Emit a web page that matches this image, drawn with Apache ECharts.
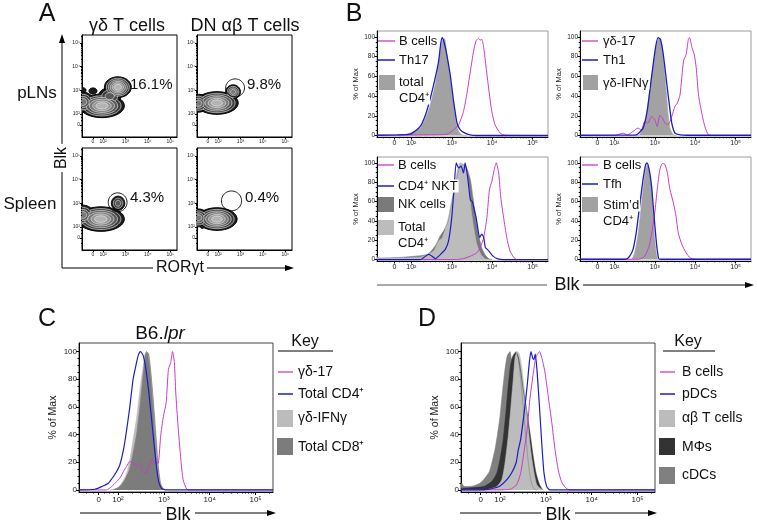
<!DOCTYPE html>
<html><head><meta charset="utf-8">
<script src="https://cdn.jsdelivr.net/npm/echarts@6/dist/echarts.min.js"></script>
<style>html,body{margin:0;padding:0;background:#fff}#c{width:757px;height:525px}</style>
</head><body><div id="c"></div>
<script>
// ================= DATA =================
// biexponential display units: 10^k at k, "0" near 1.58
const histTicks = [1.58, 2, 3, 4, 5];
const tickLabels = ['0', '10²', '10³', '10⁴', '10⁵'];
const flowTicksX = [1.55, 2, 3, 4, 5];
const flowTicksY = [1.53, 2, 3, 4, 5];
const pctTicks = [0, 20, 40, 60, 80, 100];

// Panel A: density populations [cx, cy, rx, ry, levels] and gates [cx, cy, rx, ry]
const popGdPln = [[1.95, 2.34, 1.0, 0.5, 6], [1.1, 2.5, 0.5, 0.42, 4], [2.3, 2.75, 0.5, 0.36, 3], [2.66, 3.13, 0.6, 0.44, 6], [1.1, 3.0, 0.14, 0.11, 1], [1.55, 2.97, 0.18, 0.13, 1]];
const popDnPln = [[1.95, 2.46, 0.95, 0.48, 6], [1.12, 2.45, 0.45, 0.38, 4], [2.67, 2.93, 0.33, 0.3, 4]];
const popGdSpl = [[1.9, 2.33, 1.05, 0.52, 6], [1.1, 2.5, 0.5, 0.42, 4], [2.67, 3.0, 0.3, 0.3, 3]];
const popDnSpl = [[1.95, 2.33, 0.9, 0.48, 6], [1.12, 2.38, 0.45, 0.38, 4], [1.3, 2.0, 0.08, 0.07, 1]];
const gateDnPln = [[2.76, 3.1, 0.42, 0.38]];
const gateGdSpl = [[2.65, 3.04, 0.42, 0.4]];
const gateDnSpl = [[2.6, 3.1, 0.45, 0.42]];
const pctLabels = ['16.1%', '9.8%', '4.3%', '0.4%'];

// Panel B1
const b1Total = [[1.15,0],[1.81,0.7],[2.22,7.5],[2.35,17.7],[2.47,31.3],[2.59,51.7],[2.675,72.1],[2.73,89],[2.78,97],[2.82,98.5],[2.88,82.3],[2.96,58.5],[3.045,31.3],[3.11,12.6],[3.17,4.1],[3.25,0.7],[3.4,0]];
const b1Th17 = [[1.15,0.3],[1.646,0.7],[1.975,1.4],[2.22,9.2],[2.35,21],[2.47,38],[2.59,58.5],[2.675,75.5],[2.73,94.2],[2.765,99.3],[2.80,95.9],[2.86,85.7],[2.96,61.9],[3.045,34.7],[3.13,12.6],[3.21,5.8],[3.33,2.4],[3.45,0.7],[3.6,0],[5.38,0]];
const b1Bcells = [[1.15,0.3],[2.5,0.7],[2.88,1.4],[3.045,5.8],[3.17,10.9],[3.29,24.5],[3.37,41.5],[3.46,65.3],[3.54,85.7],[3.60,95.9],[3.66,98.6],[3.70,96.6],[3.74,97.6],[3.79,89.1],[3.85,68.7],[3.91,48.3],[3.99,24.5],[4.07,10.9],[4.20,2.4],[4.32,0.3],[5.38,0]];
// Panel B2
const b2GdIfng = [[2.5,0],[2.625,0.7],[2.75,10.9],[2.83,31.3],[2.92,58.5],[3.0,82.3],[3.06,94.2],[3.11,99],[3.17,92.5],[3.23,68.7],[3.29,41.5],[3.33,21],[3.375,7.5],[3.46,0.7],[3.55,0]];
const b2Th1 = [[1.15,0.3],[2.4,0.5],[2.54,0.7],[2.71,7.5],[2.81,24.5],[2.875,44.9],[2.96,72.1],[3.025,90.8],[3.08,99.3],[3.14,97.6],[3.21,82.3],[3.29,55],[3.36,31.3],[3.42,12.6],[3.5,2.4],[3.625,0.7],[3.8,0.3],[5.38,0.3]];
const b2Gd17 = [[1.15,0],[2.0,0],[2.125,1.4],[2.21,2.4],[2.33,0.7],[2.46,4.1],[2.58,7.5],[2.67,5.8],[2.75,14.3],[2.83,12.6],[2.92,19.4],[3.0,16],[3.06,9.2],[3.125,20.4],[3.19,17.7],[3.25,12.6],[3.33,10.9],[3.42,19.4],[3.5,29.6],[3.56,33],[3.625,41.5],[3.71,75.5],[3.775,82.3],[3.83,97.6],[3.86,99.3],[3.92,89.1],[3.975,82.3],[4.025,68.7],[4.08,41.5],[4.17,21],[4.25,7.5],[4.33,0.7],[4.46,0],[5.38,0]];
// Panel B3
const b3Nk = [[1.15,3.5],[1.2,1.5],[1.81,2.5],[2.39,5.3],[2.59,14],[2.716,24.6],[2.80,29.8],[2.90,38.6],[2.98,54.4],[3.06,71.9],[3.13,86],[3.19,94.7],[3.28,98.2],[3.37,94.7],[3.46,82.5],[3.52,64.9],[3.58,47.4],[3.66,26.3],[3.74,12.3],[3.83,4.6],[3.91,1],[4.0,0]];
const b3Total = [[1.15,1.5],[2.22,2.5],[2.55,8.8],[2.675,19.3],[2.76,22],[2.84,31.6],[2.92,43.9],[3.0,61.4],[3.09,78.9],[3.14,93],[3.21,100],[3.29,98.2],[3.36,93],[3.42,75.4],[3.47,54.4],[3.54,33.3],[3.62,15.8],[3.72,5.3],[3.83,0.5],[3.9,0]];
const b3Nkt = [[1.15,0],[2.22,0],[2.43,5.3],[2.51,3.5],[2.59,1],[2.76,7],[2.84,10.5],[2.92,19.3],[3.0,43.9],[3.06,75.4],[3.11,100],[3.17,94.7],[3.23,96.5],[3.29,89.5],[3.33,100],[3.39,86],[3.46,61.4],[3.51,59.6],[3.56,50.9],[3.60,43.9],[3.64,33.3],[3.69,22.8],[3.74,26.3],[3.79,22.8],[3.83,12.3],[3.88,10.5],[3.95,7],[4.02,3.5],[4.12,1],[4.28,0],[5.38,0]];
const b3Bcells = [[1.15,0],[3.1,0],[3.29,1],[3.46,3.5],[3.62,7],[3.70,12.3],[3.79,22.8],[3.87,43.9],[3.93,71.9],[3.99,80.7],[4.05,93],[4.10,100],[4.16,89.5],[4.21,64.9],[4.28,43.9],[4.36,22.8],[4.44,8.8],[4.53,2.5],[4.61,0],[5.38,0]];
// Panel B4
const b4Stim = [[2.3,0],[2.42,0],[2.5,6.9],[2.58,24.1],[2.64,44.8],[2.71,72.4],[2.775,93.1],[2.82,98.3],[2.86,93.1],[2.92,72.4],[2.96,44.8],[3.0,20.7],[3.04,5.2],[3.08,0]];
const b4Tfh = [[1.15,0.3],[2.2,0.3],[2.29,0.5],[2.375,3.4],[2.46,10.3],[2.54,27.6],[2.625,55.2],[2.71,82.8],[2.775,98.3],[2.81,100],[2.86,93.1],[2.92,75.9],[2.975,48.3],[3.025,24.1],[3.07,6.9],[3.11,0.5],[3.3,0.3],[5.38,0.3]];
const b4Bcells = [[1.15,0.3],[2.5,0.3],[2.625,0.5],[2.75,3.4],[2.86,13.8],[2.94,31],[3.0,48.3],[3.06,72.4],[3.125,93.1],[3.19,99.3],[3.25,98.3],[3.31,89.7],[3.375,72.4],[3.46,58.6],[3.525,44.8],[3.58,27.6],[3.67,15.5],[3.775,6.9],[3.875,1.7],[4.0,0.3],[5.38,0.3]];
// Panel C (B6.lpr)
const cGdIfng = [[1.826,0],[1.97,1.2],[2.08,4.8],[2.19,12],[2.26,21.8],[2.33,36.3],[2.41,53],[2.48,72.6],[2.54,87],[2.59,98],[2.64,99.3],[2.70,89.6],[2.755,68],[2.81,41],[2.86,17],[2.915,4.8],[2.99,0]];
const cCd8 = [[1.90,0],[2.04,2.4],[2.15,7.3],[2.25,14.5],[2.33,26.6],[2.41,41],[2.48,60.5],[2.54,80],[2.59,95.6],[2.62,99.8],[2.67,98],[2.71,87],[2.77,65],[2.83,38.7],[2.88,17],[2.93,4.8],[3.0,0]];
const cCd4 = [[1.15,0],[1.50,0.5],[1.644,2.4],[1.79,4.8],[1.90,9.7],[1.97,13.3],[2.04,18],[2.12,29],[2.19,43.6],[2.26,60.5],[2.33,80],[2.39,89.6],[2.44,96.9],[2.49,99.8],[2.55,96.9],[2.61,87],[2.68,68],[2.755,43.6],[2.83,19.4],[2.88,7.3],[2.95,1.2],[3.06,0],[5.38,0]];
const cGd17 = [[1.15,0],[1.75,0],[1.86,2.4],[1.97,6],[2.04,8.5],[2.12,13.3],[2.19,17],[2.26,20.6],[2.33,19.4],[2.41,17.4],[2.48,19.4],[2.54,13.3],[2.61,12],[2.68,17],[2.73,22.3],[2.81,19],[2.88,19.4],[2.93,38.7],[2.99,53],[3.05,63],[3.10,87],[3.15,92],[3.19,99.8],[3.23,92],[3.26,70],[3.31,46],[3.37,21.8],[3.42,7.3],[3.50,0.5],[3.57,0],[5.38,0]];
// Panel D
const dCdc = [[1.15,2],[1.165,5],[1.20,3],[1.24,2.4],[1.42,2.9],[1.56,4.8],[1.67,8.5],[1.77,13.3],[1.84,21.8],[1.89,29],[1.94,38.7],[2.0,53],[2.06,72.6],[2.11,87],[2.16,96.9],[2.22,99.8],[2.25,94.4],[2.305,98],[2.35,99.8],[2.40,94.4],[2.45,80],[2.51,58],[2.57,36.3],[2.62,19.4],[2.67,7.3],[2.73,1.2],[2.80,0]];
const dMac = [[1.15,1],[1.20,1.2],[1.64,2.4],[1.82,6],[1.93,12],[2.0,21.8],[2.07,36.3],[2.13,56],[2.18,75],[2.23,89.6],[2.29,96.9],[2.35,99],[2.40,95.6],[2.45,86],[2.51,72],[2.58,58],[2.65,42],[2.72,25],[2.78,13],[2.86,4],[2.93,0]];
const dAbT = [[1.71,0],[1.93,2.4],[2.04,7.3],[2.11,19.4],[2.18,38.7],[2.24,60.5],[2.29,80],[2.33,95.6],[2.38,99.8],[2.42,98],[2.47,89.6],[2.545,68],[2.60,50],[2.65,34],[2.70,21],[2.75,11],[2.80,4],[2.88,1],[2.95,0]];
const dPdc = [[1.15,0],[1.64,0],[1.855,1.2],[2.0,2.9],[2.145,7.3],[2.25,12],[2.35,19.4],[2.40,29],[2.45,36.3],[2.49,46],[2.545,60.5],[2.60,77.7],[2.64,92],[2.675,99.8],[2.71,95.6],[2.74,94.2],[2.77,98],[2.81,85],[2.86,60.5],[2.91,34],[2.96,12],[3.02,2.4],[3.09,0],[5.38,0]];
const dBcells = [[1.15,0],[1.855,0],[2.22,0.5],[2.36,3.6],[2.45,12],[2.52,26.6],[2.60,46],[2.65,65],[2.73,85],[2.78,95.6],[2.82,98],[2.86,99.8],[2.91,95.6],[2.98,85],[3.05,68],[3.13,48.5],[3.20,29],[3.27,14.5],[3.34,6],[3.44,1.2],[3.525,0],[5.38,0]];

// ================= STYLE =================
const FONT = "'Liberation Sans', Arial, Helvetica, sans-serif";
const MAG = '#c83cc8', BLUE = '#1c1cc4';
const GRAY_B = '#a2a2a2', NK = '#7a7a7a', LIGHT = '#bcbcbc', CD8 = '#7c7c7c', MAC = '#333333', CDC = '#808080';

// tick positions (axis geometry, log minor ticks)
const logMinor = [];
[2, 3, 4].forEach(d => { for (let k = 2; k <= 9; k++) logMinor.push(d + Math.log10(k)); });
logMinor.push(5 + Math.log10(2));
const histMinorX = [1.3, 1.45, 1.7, 1.8, 1.9].concat(logMinor);
const flowMinor = [1.3, 1.75, 1.85].concat(logMinor);
const pctMinor = [5,10,15,25,30,35,45,50,55,65,70,75,85,90,95];

function labelFor(v, ticks) {
  let best = 0, bd = 1e9;
  ticks.forEach((t, i) => { const d = Math.abs(t - v); if (d < bd) { bd = d; best = i; } });
  return tickLabels[best];
}

const option = { animation: false, grid: [], xAxis: [], yAxis: [], series: [], graphic: [] };

function addAxes(rect, cfg) {
  const gi = option.grid.length;
  option.grid.push({ left: rect[0], top: rect[1], width: rect[2], height: rect[3], show: true,
    borderColor: cfg.border, borderWidth: 1, backgroundColor: 'rgba(0,0,0,0)' });
  const xi = option.xAxis.length;
  option.xAxis.push({ type: 'value', gridIndex: gi, position: 'bottom', min: cfg.xr[0], max: cfg.xr[1],
    axisLine: { show: true, onZero: false, lineStyle: { color: '#000', width: 1 } },
    axisTick: { show: true, customValues: cfg.xt, length: cfg.tl, lineStyle: { color: '#000' } },
    axisLabel: { customValues: cfg.xt, formatter: v => labelFor(v, cfg.xt), fontSize: cfg.fx, color: '#222', margin: cfg.mx, fontFamily: FONT },
    splitLine: { show: false } });
  option.xAxis.push({ type: 'value', gridIndex: gi, position: 'bottom', min: cfg.xr[0], max: cfg.xr[1],
    axisLine: { show: false, onZero: false }, axisTick: { show: true, customValues: cfg.xm, length: cfg.tl * 0.5, lineStyle: { color: '#000' } },
    axisLabel: { show: false }, splitLine: { show: false } });
  const yi = option.yAxis.length;
  const yMain = { type: 'value', gridIndex: gi, position: 'left', min: cfg.yr[0], max: cfg.yr[1],
    axisLine: { show: true, onZero: false, lineStyle: { color: '#000', width: 1 } },
    axisTick: { show: true, customValues: cfg.yt, length: cfg.tl, lineStyle: { color: '#000' } },
    axisLabel: { customValues: cfg.yt, formatter: cfg.yf, fontSize: cfg.fy, color: '#222', margin: cfg.my, fontFamily: FONT },
    splitLine: { show: false } };
  if (cfg.name) {
    Object.assign(yMain, { name: cfg.name, nameLocation: 'middle', nameGap: cfg.ng,
      nameTextStyle: { fontSize: cfg.fn, color: '#222', fontFamily: FONT } });
  }
  option.yAxis.push(yMain);
  option.yAxis.push({ type: 'value', gridIndex: gi, position: 'left', min: cfg.yr[0], max: cfg.yr[1],
    axisLine: { show: false, onZero: false }, axisTick: { show: true, customValues: cfg.ym, length: cfg.tl * 0.5, lineStyle: { color: '#000' } },
    axisLabel: { show: false }, splitLine: { show: false } });
  return { xi, yi };
}

function histAxes(rect, small, border) {
  return addAxes(rect, {
    border: border, xr: [1.15, 5.38], yr: [-1.5, 106], xt: histTicks, xm: histMinorX, yt: pctTicks, ym: pctMinor,
    yf: v => String(v), tl: small ? 2.5 : 3, fx: small ? 7 : 8, fy: small ? 6.5 : 8, mx: small ? 3 : 4, my: 2,
    name: '% of Max', ng: small ? 15 : 20, fn: small ? 7.5 : 10.5 });
}

function flowAxes(rect) {
  return addAxes(rect, {
    border: '#000', xr: [1.06, 5.3], yr: [1.02, 5.34], xt: flowTicksX, xm: flowMinor, yt: flowTicksY, ym: flowMinor,
    yf: v => labelFor(v, flowTicksY), tl: 2, fx: 5, fy: 5, mx: 2, my: 2 });
}

function area(ax, data, color, z) {
  option.series.push({ type: 'line', xAxisIndex: ax.xi, yAxisIndex: ax.yi, data: data, showSymbol: false, symbol: 'none',
    smooth: 0.2, silent: true, z: z || 2, lineStyle: { color: color, width: 0.6 }, areaStyle: { color: color, opacity: 1 } });
}
function line(ax, data, color, w) {
  option.series.push({ type: 'line', xAxisIndex: ax.xi, yAxisIndex: ax.yi, data: data, showSymbol: false, symbol: 'none',
    smooth: 0.2, silent: true, z: 3, lineStyle: { color: color, width: w || 1.1 } });
}

const CONTOUR = ['#1c1c1c', '#3c3c3c', '#595959', '#777777', '#959595', '#b3b3b3', '#d0d0d0'];
function ellipsePts(c, s, k) {
  const pts = [];
  for (let a = 0; a < 48; a++) { const t = a / 48 * 2 * Math.PI; pts.push([c[0] + s[0] * k * Math.cos(t), c[1] + s[1] * k * Math.sin(t)]); }
  return pts;
}
function density(ax, pops, gates) {
  const items = [];
  pops.forEach(p => { for (let i = 0; i < p[4]; i++) items.push([p[0], p[1], p[2], p[3], i, p[4]]); });
  items.sort((a, b) => a[4] - b[4]);
  option.series.push({ type: 'custom', xAxisIndex: ax.xi, yAxisIndex: ax.yi, clip: true, silent: true, z: 2, data: items,
    renderItem: function (params, api) {
      const c = api.coord([api.value(0), api.value(1)]);
      const s = api.size([api.value(2), api.value(3)], [api.value(0), api.value(1)]);
      const i = api.value(4), n = api.value(5);
      const k = 1 - i / n * 0.88;
      return { type: 'polygon', shape: { points: ellipsePts(c, s, k) },
        style: { fill: CONTOUR[i], stroke: i === 0 ? '#000' : '#f6f6f6', lineWidth: i === 0 ? 1 : 0.6 } };
    } });
  if (gates) {
    option.series.push({ type: 'custom', xAxisIndex: ax.xi, yAxisIndex: ax.yi, clip: true, silent: true, z: 4, data: gates,
      renderItem: function (params, api) {
        const c = api.coord([api.value(0), api.value(1)]);
        const s = api.size([api.value(2), api.value(3)], [api.value(0), api.value(1)]);
        return { type: 'polygon', shape: { points: ellipsePts(c, s, 1) }, style: { fill: 'none', stroke: '#000', lineWidth: 0.9 } };
      } });
  }
}

// ================= PANEL A =================
const a1 = flowAxes([82, 35, 95, 102]);
const a2 = flowAxes([197, 35, 95, 102]);
const a3 = flowAxes([82, 148, 95, 102]);
const a4 = flowAxes([197, 148, 95, 102]);
density(a1, popGdPln, null);
density(a2, popDnPln, gateDnPln);
density(a3, popGdSpl, gateGdSpl);
density(a4, popDnSpl, gateDnSpl);

// ================= PANEL B =================
const bb1 = histAxes([377, 31, 171, 106], true, '#9a9a9a');
const bb2 = histAxes([580, 31, 171, 106], true, '#9a9a9a');
const bb3 = histAxes([377, 157, 171, 104], true, '#9a9a9a');
const bb4 = histAxes([580, 157, 171, 104], true, '#9a9a9a');
area(bb1, b1Total, GRAY_B); line(bb1, b1Bcells, MAG, 1); line(bb1, b1Th17, BLUE, 1.3);
area(bb2, b2GdIfng, GRAY_B); line(bb2, b2Gd17, MAG, 1); line(bb2, b2Th1, BLUE, 1.3);
area(bb3, b3Nk, NK); area(bb3, b3Total, LIGHT); line(bb3, b3Bcells, MAG, 1); line(bb3, b3Nkt, BLUE, 1.2);
area(bb4, b4Stim, GRAY_B); line(bb4, b4Bcells, MAG, 1); line(bb4, b4Tfh, BLUE, 1.3);

// ================= PANEL C / D =================
const cc = histAxes([79, 343, 194, 149], false, '#444');
area(cc, cGdIfng, LIGHT); area(cc, cCd8, CD8); line(cc, cGd17, MAG, 1); line(cc, cCd4, BLUE, 1.2);
const dd = histAxes([461, 343, 194, 149], false, '#444');
area(dd, dCdc, CDC); area(dd, dMac, MAC); area(dd, dAbT, LIGHT); line(dd, dBcells, MAG, 1); line(dd, dPdc, BLUE, 1.2);

// ================= TEXT / GRAPHIC =================
const G = option.graphic;
function txt(x, y, s, size, o) {
  o = o || {};
  const st = { text: s, x: 0, y: 0, fill: o.color || '#111', fontSize: size, fontFamily: FONT,
    fontStyle: o.italic ? 'italic' : 'normal',
    align: o.align || 'left', textAlign: o.align || 'left', verticalAlign: 'middle', textVerticalAlign: 'middle' };
  if (o.bg) { st.backgroundColor = '#fff'; st.padding = o.pad || [0, 1, 0, 1]; }
  if (o.rich) st.rich = o.rich;
  G.push({ type: 'text', x: x, y: y, rotation: o.rot || 0, z: 100, style: st });
}
function seg(x1, y1, x2, y2, color, w) {
  G.push({ type: 'line', z: 90, shape: { x1: x1, y1: y1, x2: x2, y2: y2 }, style: { stroke: color || '#000', lineWidth: w || 1 } });
}
function head(pts) { G.push({ type: 'polygon', z: 91, shape: { points: pts }, style: { fill: '#000' } }); }
function box(x, y, w, h, color) { G.push({ type: 'rect', z: 100, shape: { x: x, y: y, width: w, height: h }, style: { fill: color } }); }

// panel letters
txt(47, 14, 'A', 25, { align: 'center' });
txt(354, 14, 'B', 25, { align: 'center' });
txt(47, 319, 'C', 25, { align: 'center' });
txt(427, 319, 'D', 25, { align: 'center' });

// panel A labels
txt(127, 26, 'γδ T cells', 18, { align: 'center' });
txt(245, 26, 'DN αβ T cells', 18, { align: 'center' });
txt(37, 93, 'pLNs', 17, { align: 'center' });
txt(30, 204, 'Spleen', 17, { align: 'center' });
txt(130, 85, pctLabels[0], 15);
txt(247, 85, pctLabels[1], 15);
txt(130, 198, pctLabels[2], 15);
txt(245, 198, pctLabels[3], 15);
seg(62, 268, 62, 41); head([[62, 34], [59, 43], [65, 43]]);
seg(62, 268, 287, 268); head([[294, 268], [285, 265], [285, 271]]);
txt(62, 158, 'Blk', 16, { align: 'center', rot: Math.PI / 2, bg: true, pad: [0, 3, 0, 3] });
txt(180, 268, 'RORγt', 16, { align: 'center', bg: true, pad: [0, 3, 0, 3] });

// panel B legends
const LF = 13;
seg(378, 41, 395, 41, MAG, 1.3); txt(398, 41, 'B cells', LF, { bg: true });
seg(378, 60, 395, 60, BLUE, 1.5); txt(398, 60, 'Th17', LF, { bg: true });
box(379, 75, 16, 15, GRAY_B); txt(398, 82, 'total', LF, { bg: true }); txt(398, 98, 'CD4⁺', LF, { bg: true });

seg(582, 41, 598, 41, MAG, 1.3); txt(602, 41, 'γδ-17', LF, { bg: true });
seg(582, 60, 598, 60, BLUE, 1.5); txt(602, 60, 'Th1', LF, { bg: true });
box(583, 75, 15, 15, GRAY_B); txt(602, 83, 'γδ-IFNγ', LF, { bg: true });

seg(378, 165, 394, 165, MAG, 1.3); txt(397, 165, 'B cells', LF, { bg: true });
seg(378, 186, 394, 186, BLUE, 1.5); txt(397, 186, 'CD4⁺ NKT', LF, { bg: true });
box(378, 197, 16, 15, NK); txt(397, 204, 'NK cells', LF, { bg: true });
box(378, 220, 16, 15, LIGHT); txt(397, 227, 'Total', LF, { bg: true }); txt(397, 243, 'CD4⁺', LF, { bg: true });

seg(582, 165, 598, 165, MAG, 1.3); txt(602, 165, 'B cells', LF, { bg: true });
seg(582, 184, 598, 184, BLUE, 1.5); txt(602, 184, 'Tfh', LF, { bg: true });
box(582, 197, 16, 15, GRAY_B); txt(602, 205, 'Stim’d', LF, { bg: true }); txt(602, 221, 'CD4⁺', LF, { bg: true });

seg(377, 285, 547, 285, '#555', 1);
txt(567, 285, 'Blk', 18, { align: 'center' });
seg(583, 285, 747, 285, '#000', 1); head([[754, 285], [745, 282], [745, 288]]);

// panel C
txt(160, 334, '{a|B6.}{b|lpr}', 19, { align: 'center', rich: { a: { fontSize: 19, fontFamily: FONT, fill: '#111' }, b: { fontSize: 19, fontFamily: FONT, fontStyle: 'italic', fill: '#111' } } });
txt(305, 342, 'Key', 16, { align: 'center' }); seg(278, 351, 333, 351, '#000', 1.2);
seg(278, 372, 293, 372, MAG, 1.3); txt(298, 372, 'γδ-17', 14);
seg(278, 394, 293, 394, BLUE, 1.5); txt(298, 394, 'Total CD4⁺', 14);
box(277, 410, 16, 17, LIGHT); txt(298, 418, 'γδ-IFNγ', 14);
box(277, 438, 16, 17, CD8); txt(298, 447, 'Total CD8⁺', 14);
seg(80, 513, 161, 513); txt(178, 515, 'Blk', 18, { align: 'center' });
seg(195, 513, 269, 513); head([[276, 513], [267, 510], [267, 516]]);

// panel D
txt(688, 342, 'Key', 16, { align: 'center' }); seg(663, 351, 715, 351, '#000', 1.2);
seg(660, 372, 675, 372, MAG, 1.3); txt(682, 372, 'B cells', 14);
seg(660, 394, 675, 394, BLUE, 1.5); txt(682, 394, 'pDCs', 14);
box(659, 410, 16, 17, LIGHT); txt(682, 418, 'αβ T cells', 14);
box(659, 438, 16, 17, MAC); txt(682, 447, 'MΦs', 14);
box(659, 467, 16, 17, CDC); txt(682, 475, 'cDCs', 14);
seg(460, 513, 541, 513); txt(558, 515, 'Blk', 18, { align: 'center' });
seg(575, 513, 650, 513); head([[657, 513], [648, 510], [648, 516]]);

const chart = echarts.init(document.getElementById('c'), null, { renderer: 'canvas' });
chart.setOption(option);
</script></body></html>
